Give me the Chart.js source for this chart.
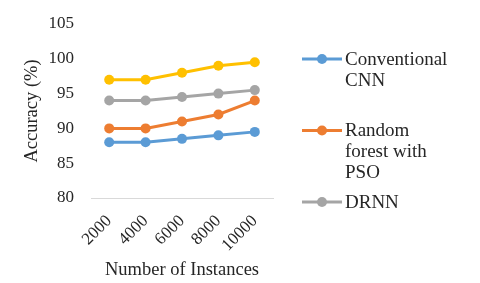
<!DOCTYPE html>
<html>
<head>
<meta charset="utf-8">
<script src="https://cdn.jsdelivr.net/npm/chart.js@4"></script>
<style>
  html, body { margin: 0; padding: 0; background: #fff; }
  #wrap { width: 480px; height: 283px; }
</style>
</head>
<body>
<div id="wrap"><canvas id="chart"></canvas></div>
<script>
const categories = ['2000', '4000', '6000', '8000', '10000'];
const seriesNames = ['Conventional CNN', 'Random forest with PSO', 'DRNN', 'Proposed'];
const cnnValues = [88, 88, 88.5, 89, 89.5];
const rfPsoValues = [90, 90, 91, 92, 94];
const drnnValues = [94, 94, 94.5, 95, 95.5];
const proposedValues = [97, 97, 98, 99, 99.5];
const yTicks = [80, 85, 90, 95, 100, 105];

const colors = ['#5B9BD5', '#ED7D31', '#A5A5A5', '#FFC000'];
const FONT = "'Liberation Serif', 'Times New Roman', serif";
const TEXT = '#262626';

function makeSet(i, values) {
  return {
    label: seriesNames[i],
    data: values,
    borderColor: colors[i],
    backgroundColor: colors[i],
    borderWidth: 3,
    pointRadius: 5,
    pointHoverRadius: 5,
    pointBorderWidth: 0,
    tension: 0
  };
}

// legend drawn on the right, wrapped text like Excel
const sideLegend = {
  id: 'sideLegend',
  afterDraw(chart) {
    const ctx = chart.ctx;
    const x0 = chart.chartArea.right + 29;
    const maxW = 107;
    const lineH = 21;
    let y = 59;
    ctx.save();
    ctx.font = '19px ' + FONT;
    ctx.textBaseline = 'middle';
    chart.data.datasets.forEach((ds) => {
      if (ds.hideInLegend) return;
      ctx.strokeStyle = ds.borderColor;
      ctx.lineWidth = 3;
      ctx.beginPath();
      ctx.moveTo(x0, y);
      ctx.lineTo(x0 + 40, y);
      ctx.stroke();
      ctx.fillStyle = ds.borderColor;
      ctx.beginPath();
      ctx.arc(x0 + 20, y, 5, 0, Math.PI * 2);
      ctx.fill();
      // wrap words
      const words = ds.label.split(' ');
      const lines = [];
      let cur = '';
      words.forEach((w) => {
        const t = cur ? cur + ' ' + w : w;
        if (cur && ctx.measureText(t).width > maxW) {
          lines.push(cur);
          cur = w;
        } else {
          cur = t;
        }
      });
      lines.push(cur);
      ctx.fillStyle = TEXT;
      lines.forEach((l, k) => ctx.fillText(l, x0 + 43, y + 1 + k * lineH));
      y += 71.5;
    });
    ctx.restore();
  }
};

const datasets = [
  makeSet(0, cnnValues),
  makeSet(1, rfPsoValues),
  makeSet(2, drnnValues),
  Object.assign(makeSet(3, proposedValues), { hideInLegend: true })
];

new Chart(document.getElementById('chart'), {
  type: 'line',
  data: { labels: categories, datasets: datasets },
  options: {
    responsive: true,
    maintainAspectRatio: false,
    animation: false,
    layout: { padding: { left: 10, right: 207, top: 24, bottom: 2 } },
    plugins: {
      legend: { display: false },
      tooltip: { enabled: false }
    },
    scales: {
      x: {
        offset: true,
        afterFit(axis) { axis.height = 83; },
        grid: { display: false, drawTicks: true, tickLength: 8 },
        border: { display: true, color: '#D9D9D9', width: 1 },
        ticks: {
          color: TEXT,
          autoSkip: false,
          font: { family: FONT, size: 17 },
          maxRotation: 45,
          minRotation: 45,
          padding: 5
        },
        title: {
          display: true,
          text: 'Number of Instances',
          color: TEXT,
          font: { family: FONT, size: 18.5 },
          padding: { top: 4, bottom: 0 }
        }
      },
      y: {
        min: 80,
        max: 105,
        afterBuildTicks(axis) {
          axis.ticks = yTicks.map((v) => ({ value: v }));
        },
        afterFit(axis) { axis.width = 81; },
        grid: { display: false, drawTicks: true, tickLength: 17 },
        border: { display: false },
        ticks: {
          color: TEXT,
          font: { family: FONT, size: 17 },
          padding: 0
        },
        title: {
          display: true,
          text: 'Accuracy (%)',
          color: TEXT,
          font: { family: FONT, size: 18.5 },
          padding: { top: 11, bottom: 0 }
        }
      }
    }
  },
  plugins: [sideLegend]
});
</script>
</body>
</html>
